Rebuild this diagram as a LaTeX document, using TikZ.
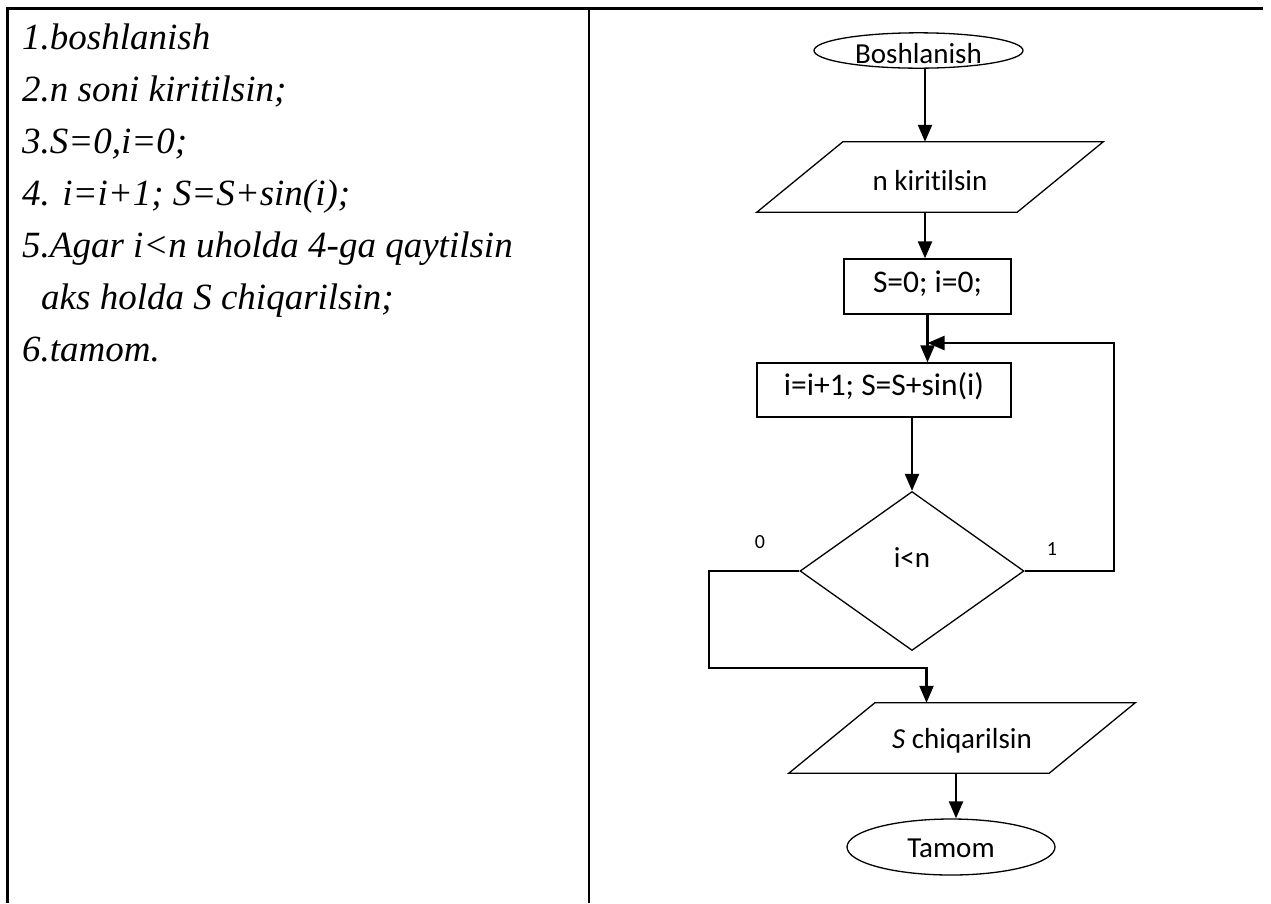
\documentclass[tikz,border=0pt]{standalone}
\usepackage{fontspec}
\setmainfont{Liberation Serif}
\newfontfamily\flowfont[Ligatures={NoCommon}]{Carlito}
\usetikzlibrary{arrows.meta,shapes.geometric}
\begin{document}
\begin{tikzpicture}[x=1pt,y=-1pt,
  tline/.style={line width=2.6pt},
  algtext/.style={anchor=base west, inner sep=0pt, font=\fontsize{37}{44}\selectfont\itshape},
  fl/.style={font=\flowfont\fontsize{29}{34}\selectfont, text depth=0pt},
  flbig/.style={font=\flowfont\fontsize{31.5}{36}\selectfont, text depth=0pt},
  shp/.style={draw, line width=1.3pt, inner sep=0pt},
  conn/.style={line width=2.2pt, -{Triangle[length=17pt,width=14pt]}},
  lbl/.style={font=\flowfont\fontsize{20}{24}\selectfont, inner sep=0pt}
]
\useasboundingbox (0,0) rectangle (1271,903);
% table
\draw[tline] (7.5,903) -- (7.5,8.5) -- (1263,8.5);
\draw[tline] (589,8.5) -- (589,903);
% algorithm text
\node[algtext] (t1) at (22,49) {1.boshlanish};
\node[algtext] (t2) at (22,101) {2.n soni kiritilsin;};
\node[algtext] (t3) at (22,153) {3.S=0,i=0;};
\node[algtext] (t4) at (22,205) {4. i=i+1; S=S+sin(i);};
\node[algtext] (t5) at (22,257) {5.Agar i<n uholda 4-ga qaytilsin};
\node[algtext] (t6) at (41,309) {aks holda S chiqarilsin;};
\node[algtext] (t7) at (22,361) {6.tamom.};
% flowchart nodes
\node[shp, fl, text height=25pt, ellipse, minimum width=209pt, minimum height=35pt] (start) at (918.5,50.5) {Boshlanish};
\node[fl, text height=26pt, inner sep=0pt, minimum width=346pt, minimum height=70pt] (p1) at (930,177) {n kiritilsin};
\draw[line width=1.3pt] ([xshift=86pt]p1.north west) -- (p1.north east) -- ([xshift=-86pt]p1.south east) -- (p1.south west) -- cycle;
\node[shp, flbig, text height=11pt, rectangle, minimum width=167pt, minimum height=55pt] (b1) at (927.5,286.5) {S=0; i=0;};
\node[shp, flbig, text height=10pt, rectangle, minimum width=254pt, minimum height=54pt] (b2) at (884,390) {i=i+1; S=S+sin(i)};
\node[shp, fl, text height=13pt, text depth=21pt, diamond, minimum width=224pt, minimum height=159pt] (d) at (912,571) {i<n};
\node[fl, text height=20pt, inner sep=0pt, minimum width=346pt, minimum height=70pt] (p2) at (962,738) {\textit{S} chiqarilsin};
\draw[line width=1.3pt] ([xshift=86pt]p2.north west) -- (p2.north east) -- ([xshift=-86pt]p2.south east) -- (p2.south west) -- cycle;
\node[shp, fl, text height=20pt, ellipse, minimum width=208pt, minimum height=56pt] (end) at (951,847) {Tamom};
\node[lbl] (l0) at (760,542) {0};
\node[lbl] (l1) at (1052,549) {1};
\coordinate (loop) at (927.5,343);
\coordinate (join) at (926.5,668);
% connectors
\draw[conn] ([xshift=6.5pt]start.south) -- ([xshift=6.5pt]start.south |- p1.north);
\draw[conn] ([xshift=-5pt]p1.south) -- ([xshift=-5pt]p1.south |- b1.north);
\draw[conn] (b1.south) -- (b1.south |- b2.north);
\draw[conn] (b2.south -| d.north) -- (d.north);
\draw[conn] (d.east) -- ++(89,0) |- (loop);
\draw[conn] (d.west) -- ++(-90,0) |- (join) -- (join |- p2.north);
\draw[conn] ([xshift=-6pt]p2.south) -- ([xshift=-6pt]p2.south |- end.north);
\end{tikzpicture}
\end{document}
